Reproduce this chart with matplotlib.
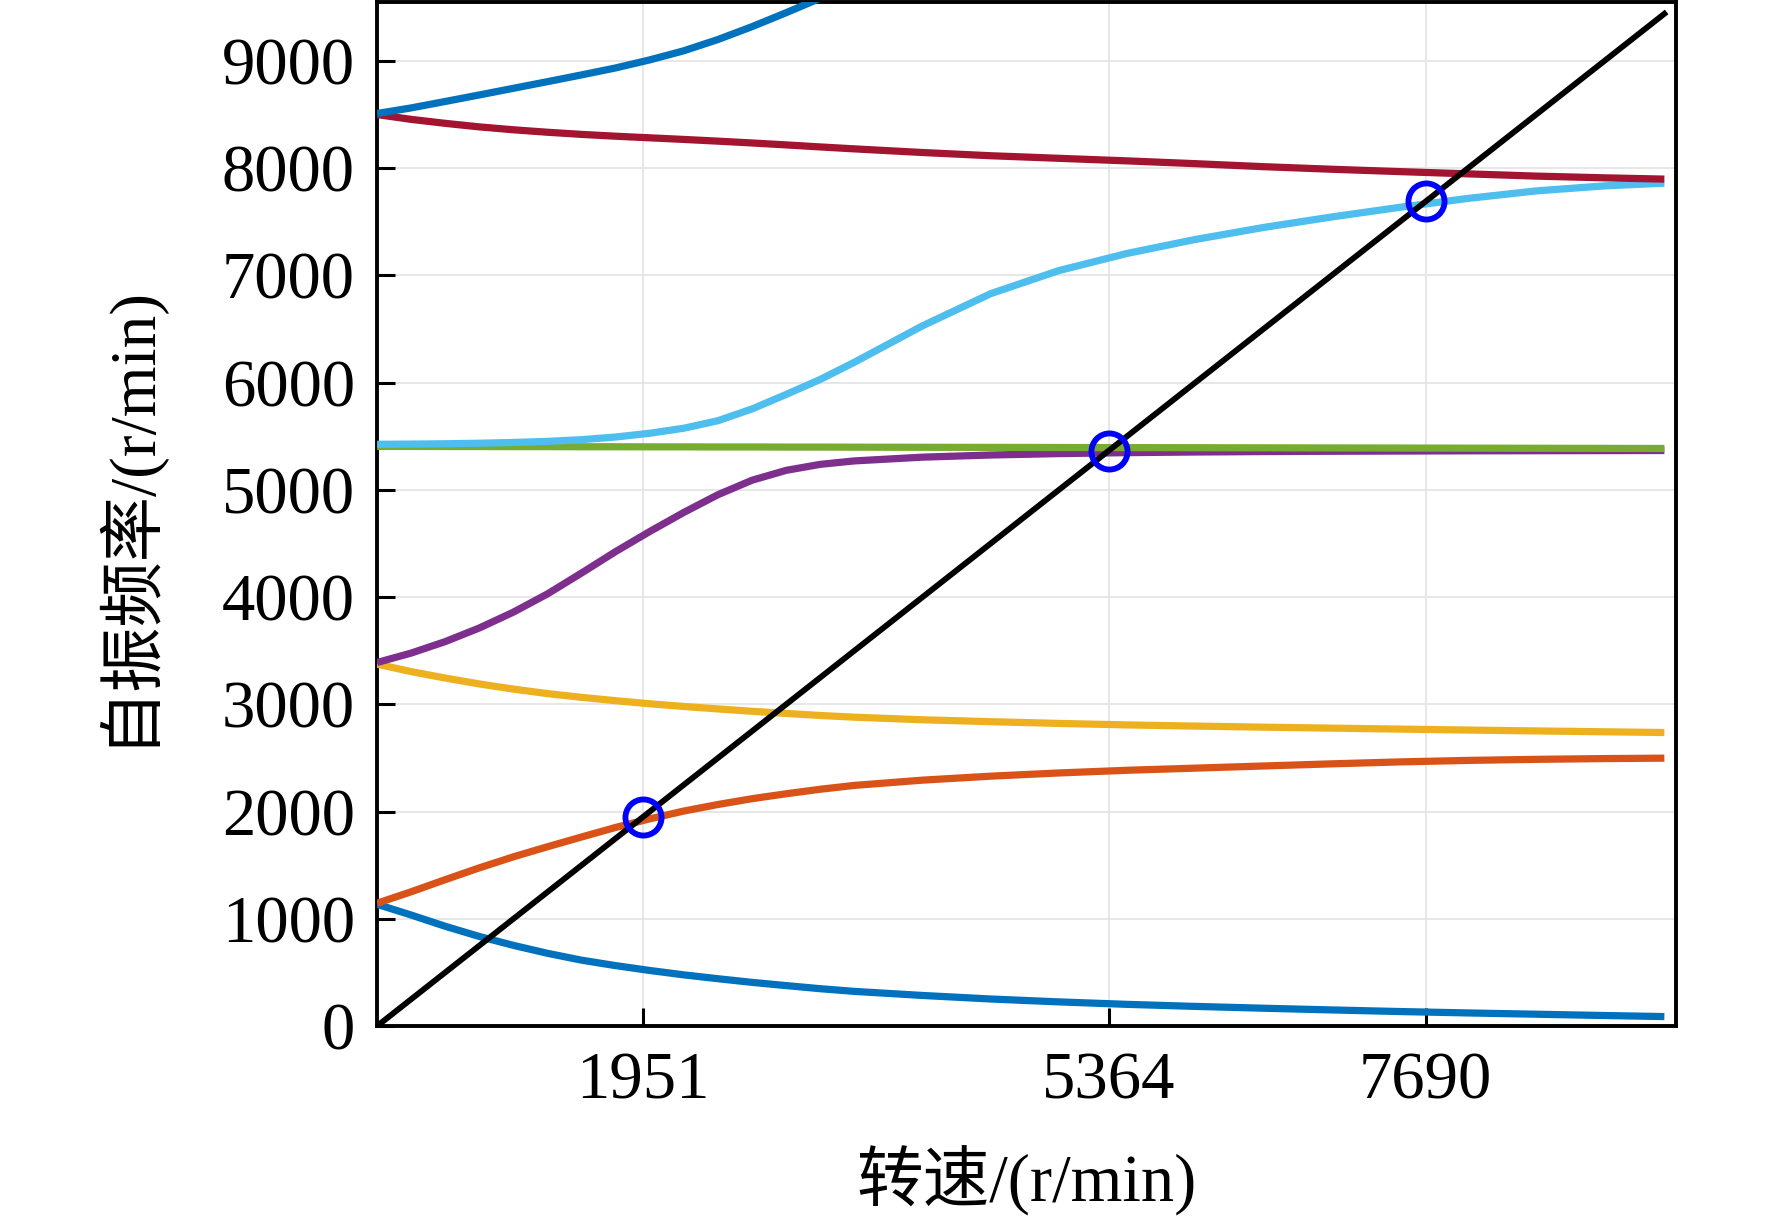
import matplotlib
matplotlib.use("Agg")
import matplotlib.pyplot as plt

plt.rcParams['font.family'] = ['Liberation Serif', 'Noto Sans CJK SC']

# rotating speed (r/min)
speed = [0, 250, 500, 750, 1000, 1250, 1500, 1750, 2000, 2250, 2500, 2750, 3000,
         3250, 3500, 4000, 4500, 5000, 5500, 6000, 6500, 7000, 7500, 8000, 8500,
         9000, 9440]

mode1_low = [1135, 1035, 930, 835, 752, 678, 614, 563, 518, 477, 441, 407, 377,
             348, 323, 285, 252, 225, 202, 183, 166, 150, 135, 122, 110, 98, 88]
mode1_high = [1145, 1252, 1365, 1475, 1578, 1672, 1763, 1852, 1932, 2005, 2066,
              2120, 2166, 2208, 2244, 2293, 2330, 2360, 2385, 2405, 2425, 2445,
              2463, 2477, 2487, 2494, 2498]
mode2_low = [3375, 3305, 3245, 3190, 3142, 3100, 3065, 3034, 3005, 2980, 2957,
             2935, 2915, 2896, 2880, 2856, 2838, 2822, 2808, 2797, 2787, 2778,
             2769, 2760, 2752, 2744, 2737]
mode2_high = [3390, 3478, 3585, 3712, 3860, 4030, 4225, 4425, 4612, 4790, 4955,
              5090, 5182, 5238, 5270, 5305, 5325, 5338, 5347, 5353, 5357, 5360,
              5362, 5364, 5365, 5366, 5367]
mode3_low = [5405, 5405, 5404, 5404, 5403, 5403, 5402, 5402, 5401, 5401, 5400,
             5400, 5399, 5399, 5398, 5397, 5396, 5395, 5394, 5393, 5392, 5391,
             5390, 5389, 5388, 5387, 5386]
mode3_high = [5425, 5427, 5430, 5435, 5442, 5452, 5468, 5493, 5528, 5575, 5645,
              5755, 5890, 6030, 6190, 6530, 6830, 7045, 7205, 7335, 7447, 7545,
              7635, 7718, 7788, 7835, 7860]
mode4_low = [8500, 8455, 8418, 8385, 8358, 8335, 8315, 8298, 8283, 8268, 8252,
             8235, 8217, 8198, 8180, 8146, 8116, 8092, 8068, 8042, 8014, 7990,
             7968, 7947, 7926, 7910, 7898]
mode4_high = [8510, 8562, 8622, 8683, 8745, 8807, 8870, 8935, 9010, 9095, 9200,
              9320, 9450, 9585, 9720]

critical_speeds = [1951, 5364, 7690]
yticks = [0, 1000, 2000, 3000, 4000, 5000, 6000, 7000, 8000, 9000]

curves = [mode1_low, mode1_high, mode2_low, mode2_high,
          mode3_low, mode3_high, mode4_low, mode4_high]
colors = ['#0072BD', '#D95319', '#EDB120', '#7E2F8E',
          '#77AC30', '#4DBEEE', '#A2142F', '#0072BD']

fig = plt.figure(figsize=(17.72, 12.27), dpi=100)
ax = fig.add_axes([0.2128, 0.1638, 0.733, 0.8346])

for vals, c in zip(curves, colors):
    ax.plot(speed[:len(vals)], vals, color=c, lw=5.2, solid_capstyle='butt',
            solid_joinstyle='round', zorder=3)

# 1x excitation line (frequency = speed)
ax.plot(speed, speed, color='black', lw=4.2, zorder=4)
ax.plot(critical_speeds, critical_speeds, linestyle='none', marker='o',
        markersize=26, markerfacecolor='none', markeredgecolor='#0000FF',
        markeredgewidth=4.2, zorder=5)

ax.set_xlim(0, 9525)
ax.set_ylim(0, 9550)
ax.set_xticks(critical_speeds)
ax.set_xticklabels([str(v) for v in critical_speeds])
ax.set_yticks(yticks)
ax.set_yticklabels([str(v) for v in yticks])

ax.grid(True, color='#E3E3E3', lw=1.2, zorder=0)
ax.set_axisbelow(True)

for s in ax.spines.values():
    s.set_linewidth(2.8)
    s.set_color('black')

ax.tick_params(axis='both', direction='in', length=13, width=2.2,
               labelsize=48, colors='black')
ax.tick_params(axis='y', pad=16)
ax.tick_params(axis='x', pad=18)

ax.set_xlabel('转速/(r/min)', fontsize=48, labelpad=24)
ax.set_ylabel('自振频率/(r/min)', fontsize=47, labelpad=45)

fig.savefig('out.png', dpi=100)
